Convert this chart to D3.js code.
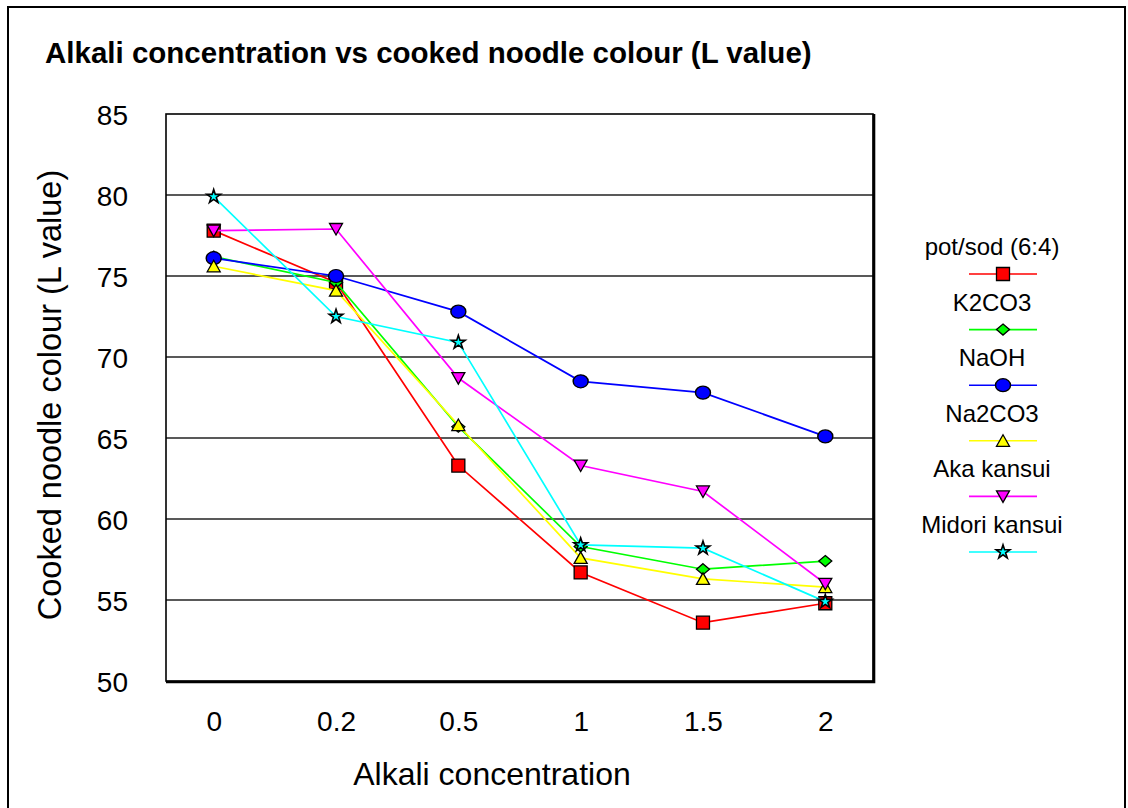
<!DOCTYPE html>
<html>
<head>
<meta charset="utf-8">
<script src="https://cdn.jsdelivr.net/npm/d3@7"></script>
<style>
  html, body { margin: 0; padding: 0; background: #fff; }
  text { font-family: "Liberation Sans", Arial, sans-serif; fill: #000; }
</style>
</head>
<body>
<svg id="chart" width="1128" height="808"></svg>
<script>
// Data
const categories = ["0", "0.2", "0.5", "1", "1.5", "2"];
const seriesNames = ["pot/sod (6:4)", "K2CO3", "NaOH", "Na2CO3", "Aka kansui", "Midori kansui"];
const potSod = [77.8, 74.6, 63.3, 56.7, 53.6, 54.8];
const k2co3 = [76.2, 74.6, 65.7, 58.3, 56.9, 57.4];
const naoh = [76.1, 75.0, 72.8, 68.5, 67.8, 65.1];
const na2co3 = [75.6, 74.1, 65.8, 57.6, 56.3, 55.8];
const akaKansui = [77.8, 77.9, 68.7, 63.3, 61.7, 56.0];
const midoriKansui = [79.9, 72.5, 70.9, 58.4, 58.2, 54.9];
const yTicks = [50, 55, 60, 65, 70, 75, 80, 85];

const seriesValues = [potSod, k2co3, naoh, na2co3, akaKansui, midoriKansui];
const seriesColors = ["#FF0000", "#00FF00", "#0000FF", "#FFFF00", "#FF00FF", "#00FFFF"];
const seriesMarkers = ["square", "diamond", "circle", "triangle", "triangleDown", "star"];

// Plot area
const PLOT_LEFT = 166;
const PLOT_RIGHT = 873;
const PLOT_TOP = 114;
const PLOT_BOTTOM = 681;

const svg = d3.select("#chart");

const x = d3.scalePoint()
  .domain(categories)
  .range([PLOT_LEFT, PLOT_RIGHT])
  .padding(0.39);

const y = d3.scaleLinear()
  .domain([50, 85])
  .range([PLOT_BOTTOM, PLOT_TOP]);

// marker path centred on 0,0
function markerPath(type) {
  switch (type) {
    case "square": return "M-6.5,-6.5H6.5V6.5H-6.5Z";
    case "diamond": return "M0,-5.5L6.5,0L0,5.5L-6.5,0Z";
    case "triangle": return "M0,-6L6.5,5.5H-6.5Z";
    case "triangleDown": return "M0,6L6.5,-5.5H-6.5Z";
    case "circle": return d3.arc()({innerRadius: 0, outerRadius: 1, startAngle: 0, endAngle: 2 * Math.PI});
    case "star": return d3.symbol(d3.symbolStar, 58)();
  }
}

function drawMarker(g, type, color) {
  const p = g.append("path")
    .attr("d", markerPath(type))
    .attr("fill", color)
    .attr("stroke", "#000")
    .attr("stroke-width", type === "star" ? 1.6 : 1.3);
  if (type === "circle") {
    p.attr("transform", "scale(7.5,6.5)").attr("stroke-width", 1.3 / 6.8);
  }
  return p;
}

// outer chart border
svg.append("rect")
  .attr("x", 8).attr("y", 7)
  .attr("width", 1117).attr("height", 820)
  .attr("fill", "none")
  .attr("stroke", "#000")
  .attr("stroke-width", 2);

// title
svg.append("text")
  .attr("x", 45).attr("y", 63)
  .style("font-size", "29.5px")
  .style("font-weight", "bold")
  .text("Alkali concentration vs cooked noodle colour (L value)");

// gridlines
svg.append("g")
  .selectAll("line")
  .data(yTicks.filter(d => d > 50 && d < 85))
  .join("line")
  .attr("x1", PLOT_LEFT).attr("x2", PLOT_RIGHT)
  .attr("y1", d => y(d)).attr("y2", d => y(d))
  .attr("stroke", "#222")
  .attr("stroke-width", 1.6);

// plot border (thicker bottom / right like the original)
svg.append("rect")
  .attr("x", PLOT_LEFT).attr("y", PLOT_TOP)
  .attr("width", PLOT_RIGHT - PLOT_LEFT).attr("height", PLOT_BOTTOM - PLOT_TOP)
  .attr("fill", "none")
  .attr("stroke", "#000")
  .attr("stroke-width", 1.6);
svg.append("path")
  .attr("d", `M${PLOT_LEFT},${PLOT_BOTTOM + 1}H${PLOT_RIGHT + 1}V${PLOT_TOP}`)
  .attr("fill", "none")
  .attr("stroke", "#000")
  .attr("stroke-width", 2.6);

// y axis labels
const yAxis = d3.axisLeft(y).tickValues(yTicks).tickSize(0).tickPadding(38);
svg.append("g")
  .attr("transform", `translate(${PLOT_LEFT},0)`)
  .call(yAxis)
  .call(g => g.select(".domain").remove())
  .selectAll("text")
  .style("font-size", "28px")
  .style("font-family", "'Liberation Sans', Arial, sans-serif")
  .attr("dy", "0.36em");

// x axis labels
const xAxis = d3.axisBottom(x).tickSize(0).tickPadding(30);
svg.append("g")
  .attr("transform", `translate(0,${PLOT_BOTTOM})`)
  .call(xAxis)
  .call(g => g.select(".domain").remove())
  .selectAll("text")
  .style("font-size", "28px")
  .style("font-family", "'Liberation Sans', Arial, sans-serif");

// axis titles
svg.append("text")
  .attr("x", 492).attr("y", 785)
  .attr("text-anchor", "middle")
  .style("font-size", "32px")
  .text("Alkali concentration");

svg.append("text")
  .attr("transform", "translate(61,395) rotate(-90)")
  .attr("text-anchor", "middle")
  .style("font-size", "32.5px")
  .text("Cooked noodle colour (L value)");

// series
const line = d3.line()
  .x((d, i) => x(categories[i]))
  .y(d => y(d));

seriesValues.forEach((vals, s) => {
  const g = svg.append("g");
  g.append("path")
    .attr("d", line(vals))
    .attr("fill", "none")
    .attr("stroke", seriesColors[s])
    .attr("stroke-width", 1.7);
  vals.forEach((v, i) => {
    const mg = g.append("g").attr("transform", `translate(${x(categories[i])},${y(v)})`);
    drawMarker(mg, seriesMarkers[s], seriesColors[s]);
  });
});

// legend
const legend = svg.append("g");
seriesNames.forEach((name, s) => {
  const top = 255 + s * 55.6;
  legend.append("text")
    .attr("x", 992).attr("y", top)
    .attr("text-anchor", "middle")
    .style("font-size", "24px")
    .text(name);
  legend.append("line")
    .attr("x1", 969).attr("x2", 1037)
    .attr("y1", top + 19).attr("y2", top + 19)
    .attr("stroke", seriesColors[s])
    .attr("stroke-width", 1.6);
  const mg = legend.append("g").attr("transform", `translate(1003,${top + 19})`);
  drawMarker(mg, seriesMarkers[s], seriesColors[s]);
});
</script>
</body>
</html>
